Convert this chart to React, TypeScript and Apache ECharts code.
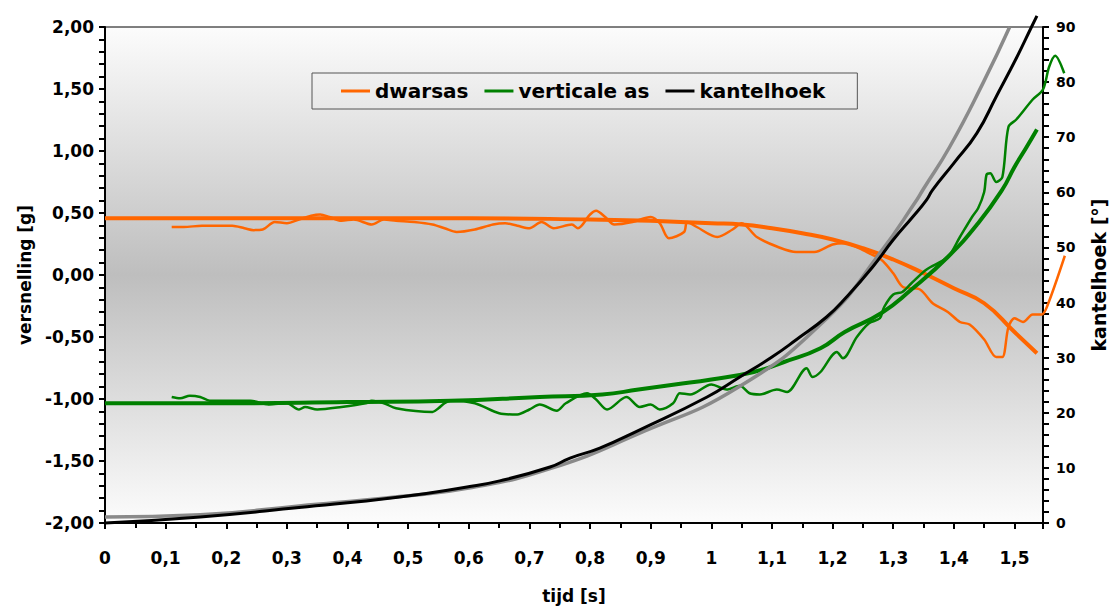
import React, { useEffect, useRef } from "react";
import * as echarts from "echarts";

// time axis ticks (s)
const xTicks = [0, 0.1, 0.2, 0.3, 0.4, 0.5, 0.6, 0.7, 0.8, 0.9, 1, 1.1, 1.2, 1.3, 1.4, 1.5];

// dwarsas (lateral acceleration) – model
const dwarsModelT = [0, 0.2, 0.4, 0.6, 0.8, 0.9, 1.0, 1.05, 1.1, 1.15, 1.2, 1.25, 1.3, 1.35, 1.4, 1.45, 1.5, 1.537];
const dwarsModelV = [0.47, 0.47, 0.47, 0.47, 0.46, 0.45, 0.43, 0.42, 0.39, 0.35, 0.30, 0.23, 0.14, 0.03, -0.09, -0.21, -0.44, -0.61];

// dwarsas – measured
const dwarsMeasT = [0.11, 0.13, 0.16, 0.19, 0.21, 0.23, 0.245, 0.26, 0.28, 0.30, 0.32, 0.34, 0.355, 0.37, 0.39, 0.41, 0.44, 0.46, 0.48, 0.51, 0.54, 0.56, 0.58, 0.61, 0.64, 0.66, 0.68, 0.70, 0.72, 0.74, 0.77, 0.78, 0.80, 0.81, 0.825, 0.84, 0.87, 0.90, 0.915, 0.93, 0.955, 0.96, 0.976, 1.01, 1.035, 1.05, 1.075, 1.11, 1.14, 1.17, 1.20, 1.22, 1.24, 1.26, 1.28, 1.30, 1.316, 1.344, 1.365, 1.39, 1.41, 1.426, 1.45, 1.47, 1.48, 1.49, 1.50, 1.514, 1.53, 1.545, 1.555, 1.583];
const dwarsMeasV = [0.40, 0.40, 0.41, 0.41, 0.41, 0.39, 0.375, 0.38, 0.44, 0.43, 0.46, 0.49, 0.50, 0.48, 0.45, 0.46, 0.42, 0.46, 0.45, 0.44, 0.42, 0.39, 0.36, 0.38, 0.42, 0.43, 0.41, 0.39, 0.44, 0.39, 0.42, 0.39, 0.50, 0.53, 0.48, 0.42, 0.44, 0.48, 0.43, 0.31, 0.36, 0.44, 0.40, 0.32, 0.38, 0.43, 0.32, 0.24, 0.20, 0.20, 0.26, 0.27, 0.24, 0.19, 0.14, 0.03, -0.08, -0.10, -0.21, -0.28, -0.36, -0.38, -0.50, -0.64, -0.64, -0.40, -0.33, -0.36, -0.30, -0.30, -0.22, 0.17];

// verticale as – model
const vertModelT = [0, 0.2, 0.4, 0.57, 0.717, 0.82, 0.88, 0.94, 1.0, 1.07, 1.12, 1.18, 1.22, 1.28, 1.33, 1.39, 1.44, 1.48, 1.5, 1.52, 1.537];
const vertModelV = [-1.01, -1.01, -1.0, -0.99, -0.96, -0.94, -0.90, -0.86, -0.82, -0.76, -0.68, -0.57, -0.44, -0.29, -0.10, 0.16, 0.43, 0.70, 0.88, 1.04, 1.18];

// verticale as – measured
const vertMeasT = [0.11, 0.124, 0.14, 0.157, 0.173, 0.20, 0.24, 0.27, 0.30, 0.32, 0.33, 0.35, 0.39, 0.43, 0.44, 0.46, 0.48, 0.54, 0.55, 0.56, 0.57, 0.61, 0.65, 0.68, 0.70, 0.717, 0.745, 0.76, 0.795, 0.81, 0.828, 0.86, 0.882, 0.90, 0.915, 0.937, 0.948, 0.965, 1.0, 1.025, 1.047, 1.063, 1.08, 1.108, 1.125, 1.157, 1.167, 1.18, 1.207, 1.217, 1.24, 1.26, 1.278, 1.285, 1.30, 1.315, 1.33, 1.355, 1.39, 1.41, 1.43, 1.44, 1.45, 1.454, 1.46, 1.47, 1.48, 1.49, 1.503, 1.53, 1.547, 1.557, 1.567, 1.582];
const vertMeasV = [-0.96, -0.97, -0.95, -0.96, -0.99, -0.99, -0.99, -1.02, -1.01, -1.06, -1.04, -1.06, -1.04, -1.01, -0.99, -1.01, -1.05, -1.08, -1.05, -1.01, -0.99, -1.01, -1.09, -1.10, -1.06, -1.02, -1.07, -1.01, -0.93, -0.98, -1.06, -0.96, -1.04, -1.02, -1.06, -1.01, -0.93, -0.94, -0.86, -0.90, -0.87, -0.93, -0.94, -0.90, -0.92, -0.73, -0.80, -0.76, -0.60, -0.65, -0.48, -0.37, -0.33, -0.24, -0.14, -0.12, -0.05, 0.06, 0.16, 0.32, 0.48, 0.55, 0.68, 0.82, 0.83, 0.76, 0.80, 1.20, 1.26, 1.42, 1.50, 1.68, 1.77, 1.63];

// kantelhoek – measured (degrees)
const hoekMeasT = [0, 0.157, 0.32, 0.486, 0.597, 0.651, 0.734, 0.767, 0.816, 0.882, 0.993, 1.047, 1.10, 1.14, 1.19, 1.223, 1.266, 1.30, 1.332, 1.355, 1.365, 1.40, 1.438, 1.47, 1.504, 1.528, 1.537];
const hoekMeasV = [0.7, 1.8, 3.5, 5.4, 7.2, 8.3, 10.8, 12.4, 14.2, 17.5, 23.4, 27.0, 30.6, 33.7, 37.8, 41.4, 46.8, 51.7, 55.8, 58.9, 60.7, 65.5, 70.9, 77.5, 84.6, 90, 92];

// kantelhoek – model (degrees)
const hoekModelT = [0, 0.157, 0.32, 0.486, 0.6, 0.734, 0.88, 1.045, 1.19, 1.278, 1.339, 1.349, 1.393, 1.448, 1.492];
const hoekModelV = [1.8, 2.2, 3.8, 5.5, 7.0, 10.5, 16.8, 25.2, 37.5, 49.3, 58.9, 60.7, 68.4, 79.9, 90];

const legendNames = ["dwarsas", "verticale as", "kantelhoek"];

// visible time range and the range the recorded data runs to (beyond the right axis)
const X_MAX = 1.547;
const X_DATA_MAX = 1.585;

const zip = (t: number[], v: number[]) => t.map((x, i) => [x, v[i]]);

const FONT = "DejaVu Sans, Arial, sans-serif";

export default function App() {
  const ref = useRef<HTMLDivElement>(null);

  useEffect(() => {
    if (!ref.current) return;
    const chart = echarts.init(ref.current, undefined, { renderer: "svg" });

    const W = 1117;
    const left = 105;
    const rightVisible = 74;
    const plotW = W - left - rightVisible;
    const pxPerSec = plotW / X_MAX;
    const rightData = W - left - pxPerSec * X_DATA_MAX;

    const tickStyle = { color: "#000", width: 2 };
    const hidden = {
      show: false,
      axisLine: { show: false },
      axisTick: { show: false },
      axisLabel: { show: false },
      splitLine: { show: false },
    };

    const option: any = {
      animation: false,
      backgroundColor: "#ffffff",
      grid: [
        {
          left,
          right: rightVisible,
          top: 27,
          bottom: 82,
          show: true,
          borderColor: "#000",
          borderWidth: 1,
          backgroundColor: {
            type: "linear",
            x: 0,
            y: 0,
            x2: 0,
            y2: 1,
            colorStops: [
              { offset: 0, color: "#fcfcfc" },
              { offset: 0.5, color: "#bebebe" },
              { offset: 1, color: "#fcfcfc" },
            ],
          },
        },
        { left, right: rightData, top: 27, bottom: 82, show: false },
      ],
      legend: {
        data: legendNames,
        left: 312,
        top: 73,
        icon: "rect",
        itemWidth: 29,
        itemHeight: 3,
        itemGap: 16,
        padding: [8, 32, 8, 29],
        borderColor: "#555",
        borderWidth: 1,
        textStyle: { fontFamily: FONT, fontWeight: "bold", fontSize: 20, color: "#000" },
      },
      xAxis: [
        {
          type: "value",
          gridIndex: 0,
          min: 0,
          max: X_MAX,
          interval: 0.1,
          name: "tijd [s]",
          nameLocation: "middle",
          nameGap: 64,
          nameTextStyle: { fontFamily: FONT, fontWeight: "bold", fontSize: 17, color: "#000" },
          axisLine: { show: true, onZero: false, lineStyle: { color: "#000", width: 2 } },
          axisTick: { show: true, length: 6, lineStyle: tickStyle },
          minorTick: { show: true, splitNumber: 2, length: 5, lineStyle: tickStyle },
          splitLine: { show: false },
          axisLabel: {
            margin: 26,
            showMaxLabel: false,
            fontFamily: FONT,
            fontWeight: "bold",
            fontSize: 17,
            color: "#000",
            formatter: (v: number) => {
              const m = xTicks.find((t) => Math.abs(t - v) < 1e-6);
              if (m === undefined) return "";
              return String(Math.round(m * 10) / 10).replace(".", ",");
            },
          },
        },
        { type: "value", gridIndex: 1, min: 0, max: X_DATA_MAX, ...hidden },
      ],
      yAxis: [
        {
          type: "value",
          gridIndex: 0,
          min: -2,
          max: 2,
          interval: 0.5,
          name: "versnelling [g]",
          nameLocation: "middle",
          nameRotate: 90,
          nameGap: 72,
          nameTextStyle: { fontFamily: FONT, fontWeight: "bold", fontSize: 17, color: "#000" },
          axisLine: { show: true, onZero: false, lineStyle: { color: "#000", width: 2 } },
          axisTick: { show: true, length: 6, lineStyle: tickStyle },
          minorTick: { show: true, splitNumber: 5, length: 6, lineStyle: tickStyle },
          splitLine: { show: false },
          axisLabel: {
            margin: 11,
            fontFamily: FONT,
            fontWeight: "bold",
            fontSize: 17,
            color: "#000",
            formatter: (v: number) => v.toFixed(2).replace(".", ","),
          },
        },
        {
          type: "value",
          gridIndex: 0,
          min: 0,
          max: 90,
          interval: 10,
          position: "right",
          name: "kantelhoek [°]",
          nameLocation: "middle",
          nameRotate: 90,
          nameGap: 46,
          nameTextStyle: { fontFamily: FONT, fontWeight: "bold", fontSize: 19, color: "#000" },
          axisLine: { show: true, onZero: false, lineStyle: { color: "#000", width: 2 } },
          axisTick: { show: true, length: 6, lineStyle: tickStyle },
          minorTick: { show: true, splitNumber: 5, length: 6, lineStyle: tickStyle },
          splitLine: { show: false },
          axisLabel: {
            margin: 13,
            fontFamily: FONT,
            fontWeight: "bold",
            fontSize: 14,
            color: "#000",
          },
        },
        { type: "value", gridIndex: 1, min: -2, max: 2, ...hidden },
        { type: "value", gridIndex: 1, min: 0, max: 90, position: "right", ...hidden },
      ],
      series: [
        {
          name: "dwarsas",
          type: "line",
          xAxisIndex: 1,
          yAxisIndex: 2,
          data: zip(dwarsModelT, dwarsModelV),
          symbol: "none",
          smooth: true,
          clip: false,
          itemStyle: { color: "#ff6600" },
          lineStyle: { color: "#ff6600", width: 4 },
        },
        {
          name: "dwarsas",
          type: "line",
          xAxisIndex: 1,
          yAxisIndex: 2,
          data: zip(dwarsMeasT, dwarsMeasV),
          symbol: "none",
          smooth: 0.3,
          clip: false,
          itemStyle: { color: "#ff6600" },
          lineStyle: { color: "#ff6600", width: 2.5 },
        },
        {
          name: "verticale as",
          type: "line",
          xAxisIndex: 1,
          yAxisIndex: 2,
          data: zip(vertModelT, vertModelV),
          symbol: "none",
          smooth: true,
          clip: false,
          itemStyle: { color: "#008000" },
          lineStyle: { color: "#008000", width: 4 },
        },
        {
          name: "verticale as",
          type: "line",
          xAxisIndex: 1,
          yAxisIndex: 2,
          data: zip(vertMeasT, vertMeasV),
          symbol: "none",
          smooth: 0.3,
          clip: false,
          itemStyle: { color: "#008000" },
          lineStyle: { color: "#008000", width: 2.5 },
        },
        {
          name: "kantelhoek model",
          type: "line",
          xAxisIndex: 1,
          yAxisIndex: 3,
          data: zip(hoekModelT, hoekModelV),
          symbol: "none",
          smooth: true,
          clip: false,
          itemStyle: { color: "#808080" },
          lineStyle: { color: "#8a8a8a", width: 3.5 },
        },
        {
          name: "kantelhoek",
          type: "line",
          xAxisIndex: 1,
          yAxisIndex: 3,
          data: zip(hoekMeasT, hoekMeasV),
          symbol: "none",
          smooth: true,
          clip: false,
          itemStyle: { color: "#000000" },
          lineStyle: { color: "#000000", width: 3 },
        },
      ],
    };

    chart.setOption(option);
    return () => chart.dispose();
  }, []);

  return (
    <div
      ref={ref}
      style={{ position: "absolute", left: 0, top: 0, width: 1117, height: 609, background: "#fff" }}
    />
  );
}
